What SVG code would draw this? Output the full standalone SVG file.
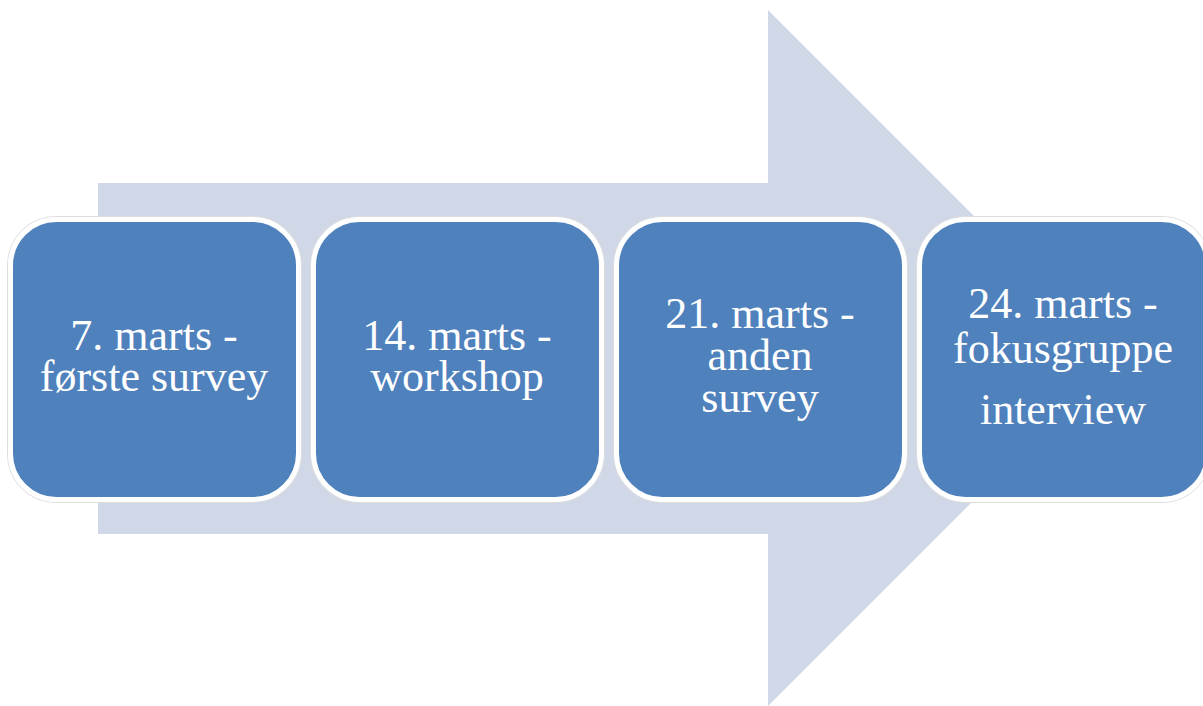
<svg xmlns="http://www.w3.org/2000/svg" width="1203" height="706" viewBox="0 0 1203 706">
<style>
.box{fill:#4F81BD;stroke:#FFFFFF;stroke-width:5}
.edge{fill:none;stroke:#DDDDDD;stroke-width:1}
.lbl{font-family:"Liberation Serif","Times New Roman",serif;font-size:44px;fill:#FFFFFF;text-anchor:middle}
</style>
<rect width="1203" height="706" fill="#FFFFFF"/>
<g id="connectors">
<path d="M98,183 H768 V10 L1116,358 L768,706 V534 H98 Z" fill="#D0D8E8"/>
</g>
<g id="node1">
<rect class="edge" x="7.5" y="216.5" width="294" height="286" rx="48"/>
<rect class="box" x="10.5" y="219.5" width="288" height="280" rx="46"/>
<text class="lbl" x="154" y="350">7. marts -</text>
<text class="lbl" x="154" y="391">første survey</text>
</g>
<g id="node2">
<rect class="edge" x="310.5" y="216.5" width="294" height="286" rx="48"/>
<rect class="box" x="313.5" y="219.5" width="288" height="280" rx="46"/>
<text class="lbl" x="457" y="350">14. marts -</text>
<text class="lbl" x="457" y="391">workshop</text>
</g>
<g id="node3">
<rect class="edge" x="613.5" y="216.5" width="294" height="286" rx="48"/>
<rect class="box" x="616.5" y="219.5" width="288" height="280" rx="46"/>
<text class="lbl" x="760" y="328">21. marts -</text>
<text class="lbl" x="760" y="370">anden</text>
<text class="lbl" x="760" y="412">survey</text>
</g>
<g id="node4">
<rect class="edge" x="916.5" y="216.5" width="294" height="286" rx="48"/>
<rect class="box" x="919.5" y="219.5" width="288" height="280" rx="46"/>
<text class="lbl" x="1063" y="318">24. marts -</text>
<text class="lbl" x="1063" y="363">fokusgruppe</text>
<text class="lbl" x="1063" y="424">interview</text>
</g>
</svg>
